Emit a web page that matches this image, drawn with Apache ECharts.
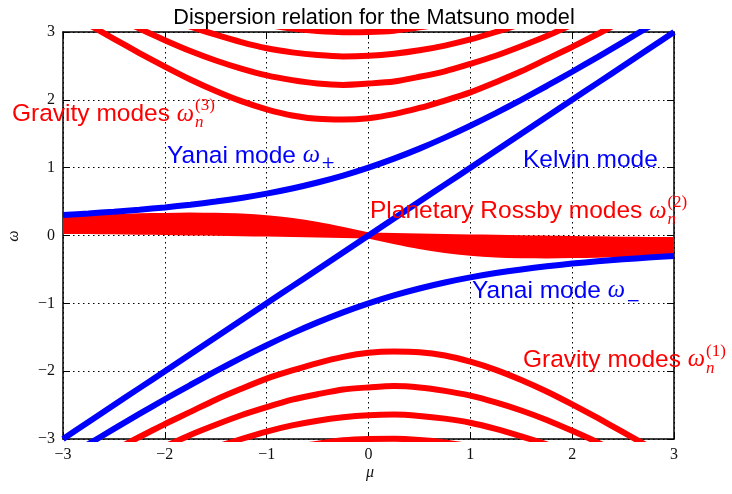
<!DOCTYPE html>
<html><head><meta charset="utf-8">
<script src="https://cdn.jsdelivr.net/npm/echarts@6/dist/echarts.min.js"></script>
<style>html,body{margin:0;padding:0;background:#fff}#c{width:732px;height:494px}</style>
</head><body><div id="c"></div>
<script>
// ---- data ----
const mu = [-3,-2.75,-2.5,-2.25,-2,-1.75,-1.5,-1.25,-1,-0.75,-0.5,-0.25,0,0.25,0.5,0.75,1,1.25,1.5,1.75,2,2.25,2.5,2.75,3];
const kelvin = [-3,-2.75,-2.5,-2.25,-2,-1.75,-1.5,-1.25,-1,-0.75,-0.5,-0.25,0,0.25,0.5,0.75,1,1.25,1.5,1.75,2,2.25,2.5,2.75,3];
const yanaiPlus = [0.303,0.325,0.351,0.380,0.414,0.454,0.5,0.554,0.618,0.693,0.781,0.883,1,1.133,1.281,1.443,1.618,1.804,2.0,2.204,2.414,2.630,2.851,3.075,3.303];
const yanaiMinus = [-3.303,-3.075,-2.851,-2.630,-2.414,-2.204,-2.0,-1.804,-1.618,-1.443,-1.281,-1.133,-1,-0.883,-0.781,-0.693,-0.618,-0.554,-0.5,-0.454,-0.414,-0.380,-0.351,-0.325,-0.303];
const gravUp1 = [3.33,3.11,2.90,2.69,2.49,2.30,2.13,1.98,1.86,1.77,1.72,1.71,1.73,1.79,1.88,1.99,2.11,2.26,2.42,2.60,2.78,2.97,3.17,3.37,3.58];
const gravUp2 = [3.63,3.43,3.24,3.05,2.88,2.72,2.58,2.46,2.36,2.29,2.24,2.22,2.24,2.27,2.34,2.42,2.53,2.65,2.79,2.94,3.11,3.28,3.46,3.65,3.84];
const gravUp3 = [3.90,3.72,3.54,3.38,3.22,3.08,2.96,2.85,2.76,2.70,2.66,2.64,2.65,2.68,2.73,2.80,2.89,3.00,3.12,3.26,3.40,3.56,3.73,3.91,4.09];
const gravUp4 = [4.16,3.98,3.82,3.67,3.53,3.40,3.29,3.19,3.11,3.05,3.014,2.997,3.0,3.02,3.068,3.13,3.21,3.31,3.42,3.54,3.68,3.83,3.98,4.15,4.32];
const gravLo1 = [-3.58,-3.37,-3.17,-2.97,-2.78,-2.60,-2.42,-2.26,-2.11,-1.99,-1.88,-1.79,-1.73,-1.71,-1.72,-1.77,-1.86,-1.98,-2.13,-2.30,-2.49,-2.69,-2.90,-3.11,-3.33];
const gravLo2 = [-3.84,-3.65,-3.46,-3.28,-3.11,-2.94,-2.79,-2.65,-2.53,-2.42,-2.34,-2.27,-2.24,-2.22,-2.24,-2.29,-2.36,-2.46,-2.58,-2.72,-2.88,-3.05,-3.24,-3.43,-3.63];
const gravLo3 = [-4.09,-3.91,-3.73,-3.56,-3.40,-3.26,-3.12,-3.00,-2.89,-2.80,-2.73,-2.68,-2.65,-2.64,-2.66,-2.70,-2.76,-2.85,-2.96,-3.08,-3.22,-3.38,-3.54,-3.72,-3.90];
const gravLo4 = [-4.32,-4.15,-3.98,-3.83,-3.68,-3.54,-3.42,-3.31,-3.21,-3.13,-3.068,-3.02,-3.0,-2.997,-3.014,-3.05,-3.11,-3.19,-3.29,-3.40,-3.53,-3.67,-3.82,-3.98,-4.16];
const rossbyOuter = [0.251,0.262,0.272,0.282,0.289,0.293,0.290,0.279,0.254,0.213,0.155,0.082,0,-0.082,-0.155,-0.213,-0.254,-0.279,-0.290,-0.293,-0.289,-0.282,-0.272,-0.262,-0.251];
const rossbyInner = [0.068,0.065,0.061,0.056,0.051,0.046,0.040,0.034,0.028,0.021,0.014,0.007,0,-0.007,-0.014,-0.021,-0.028,-0.034,-0.040,-0.046,-0.051,-0.056,-0.061,-0.065,-0.068];

// ---- styling ----
const RED = '#ff0000', BLUE = '#0000ff';
const SANS = '"Liberation Sans", Arial, sans-serif';
const SERIF = '"Liberation Serif", "Times New Roman", serif';
const LW = 6;
const FS = 24.5, FSS = 17;

const pairs = arr => mu.map((m, i) => [m, arr[i]]);
function lineSeries(arr, color) {
  return { type: 'line', data: pairs(arr), symbol: 'none', smooth: 0.25, clip: true,
    lineStyle: { color, width: LW, cap: 'butt' }, silent: true, animation: false };
}

const ctx = document.createElement('canvas').getContext('2d');
function tw(text, font) { ctx.font = font; return ctx.measureText(text).width; }
function mathLabel(x, y, color, text, sub, sup, subDy) {
  const els = [];
  const f1 = FS + 'px ' + SANS;
  els.push({ type: 'text', x, y, z: 100, style: { text, font: f1, fill: color, align: 'left', verticalAlign: 'middle' } });
  let xx = x + tw(text, f1);
  const fw = 'italic ' + FS + 'px ' + SERIF;
  els.push({ type: 'text', x: xx, y, z: 100, style: { text: 'ω', font: fw, fill: color, align: 'left', verticalAlign: 'middle' } });
  xx += tw('ω', fw) + 1;
  const fs = FSS + 'px ' + (sub === 'n' ? SERIF : '"DejaVu Serif", serif');
  if (sub) els.push({ type: 'text', x: xx, y: y + subDy, z: 100, style: { text: sub, font: (sub === 'n' ? 'italic ' : '') + fs, fill: color, align: 'left', verticalAlign: 'middle' } });
  if (sup) els.push({ type: 'text', x: xx, y: y - 8.5, z: 100, style: { text: sup, font: FSS + 'px ' + SERIF, fill: color, align: 'left', verticalAlign: 'middle' } });
  return els;
}

const fmt = v => (v < 0 ? '\u2212' + Math.abs(v) : String(v));
function ax(pos, labels) {
  return { type: 'value', min: -3, max: 3, interval: 1, position: pos,
    axisLine: { show: true, onZero: false, lineStyle: { color: '#000', width: 1.5 } },
    axisTick: { show: true, inside: true, length: 7, lineStyle: { color: '#000', width: 1 } },
    axisLabel: { show: labels, formatter: fmt, fontFamily: SERIF, fontSize: 16, color: '#111', margin: 8 },
    splitLine: { show: labels, lineStyle: { type: [1.5, 3.5], color: '#000', width: 1 } } };
}

const graphics = [].concat(
  mathLabel(12, 114.5, RED, 'Gravity modes ', 'n', '(3)', 8.5),
  mathLabel(167, 156, BLUE, 'Yanai mode ', '+', null, 8),
  [{ type: 'text', x: 523, y: 160, z: 100, style: { text: 'Kelvin mode', font: FS + 'px ' + SANS, fill: BLUE, align: 'left', verticalAlign: 'middle' } }],
  mathLabel(370, 211.5, RED, 'Planetary Rossby modes ', 'n', '(2)', 8.5),
  mathLabel(472, 291, BLUE, 'Yanai mode ', '\u2212', null, 11),
  mathLabel(523, 360, RED, 'Gravity modes ', 'n', '(1)', 8.5),
  [
    { type: 'text', x: 370, y: 473, z: 100, style: { text: 'μ', font: 'italic 16px ' + SERIF, fill: '#111', align: 'center', verticalAlign: 'middle' } },
    { type: 'text', x: 14, y: 236, rotation: Math.PI / 2, z: 100, style: { text: 'ω', font: 'italic 16px ' + SERIF, fill: '#111', align: 'center', verticalAlign: 'middle' } }
  ]
);

const chart = echarts.init(document.getElementById('c'), null, { renderer: 'canvas' });
chart.setOption({
  animation: false,
  backgroundColor: '#fff',
  title: { text: 'Dispersion relation for the Matsuno model', left: 369, textAlign: 'center', top: 2,
    textStyle: { fontFamily: SANS, fontSize: 21.7, fontWeight: 'normal', color: '#000', lineHeight: 22 } },
  grid: { left: 63, right: 58, top: 32, bottom: 55, containLabel: false },
  xAxis: [ax('bottom', true), ax('top', false)],
  yAxis: [ax('left', true), ax('right', false)],
  series: [
    lineSeries(gravUp1, RED), lineSeries(gravUp2, RED), lineSeries(gravUp3, RED), lineSeries(gravUp4, RED),
    lineSeries(gravLo1, RED), lineSeries(gravLo2, RED), lineSeries(gravLo3, RED), lineSeries(gravLo4, RED),
    { type: 'custom', silent: true, animation: false, data: [0],
      renderItem: function (params, api) {
        const outer = mu.map((m, i) => api.coord([m, rossbyOuter[i]]));
        const inner = mu.map((m, i) => api.coord([m, rossbyInner[i]])).reverse();
        return { type: 'polygon', shape: { points: outer.concat(inner) }, style: { fill: RED } };
      } },
    lineSeries(rossbyOuter, RED), lineSeries(rossbyInner, RED),
    lineSeries(kelvin, BLUE), lineSeries(yanaiPlus, BLUE), lineSeries(yanaiMinus, BLUE)
  ],
  graphic: { elements: graphics }
});
</script></body></html>
